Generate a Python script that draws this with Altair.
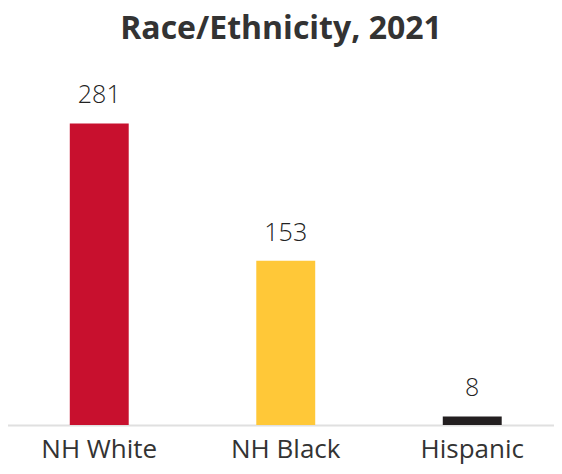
import altair as alt
import pandas as pd

categories = ["NH White", "NH Black", "Hispanic"]
values = [281, 153, 8]
colors = ["#C8102E", "#FFC838", "#231F20"]

df = pd.DataFrame({"cat": categories, "val": values, "col": colors})

x = alt.X("cat:N", sort=categories,
          scale=alt.Scale(paddingInner=0.684, paddingOuter=0.342, range=[-2, 557.5]),
          axis=alt.Axis(title=None, labelAngle=0, ticks=False, domain=True,
                        domainColor="#e0e0e0", domainWidth=2,
                        labelFont="Open Sans", labelFontSize=26,
                        labelColor="#333333", labelPadding=11))
y = alt.Y("val:Q", scale=alt.Scale(domain=[0, 300]), axis=None)

base = alt.Chart(df).encode(x=x, y=y)
bars = base.mark_bar().encode(color=alt.Color("col:N", scale=None))
text = base.mark_text(dy=-28, fontSize=25, font="Open Sans", fontWeight=300,
                      color="#222222").encode(text="val:Q")

chart = (bars + text).properties(
    width=546, height=322,
    padding={"left": 0, "top": 95, "right": 0, "bottom": 41},
    autosize=alt.AutoSizeParams(type="none"),
    title=alt.TitleParams("Race/Ethnicity, 2021", font="Open Sans",
                          fontSize=32, fontWeight="bold", color="#333333",
                          anchor="middle", offset=37),
).configure_view(stroke=None)

chart.save("out.html", embed_options={"renderer": "svg", "actions": False})
